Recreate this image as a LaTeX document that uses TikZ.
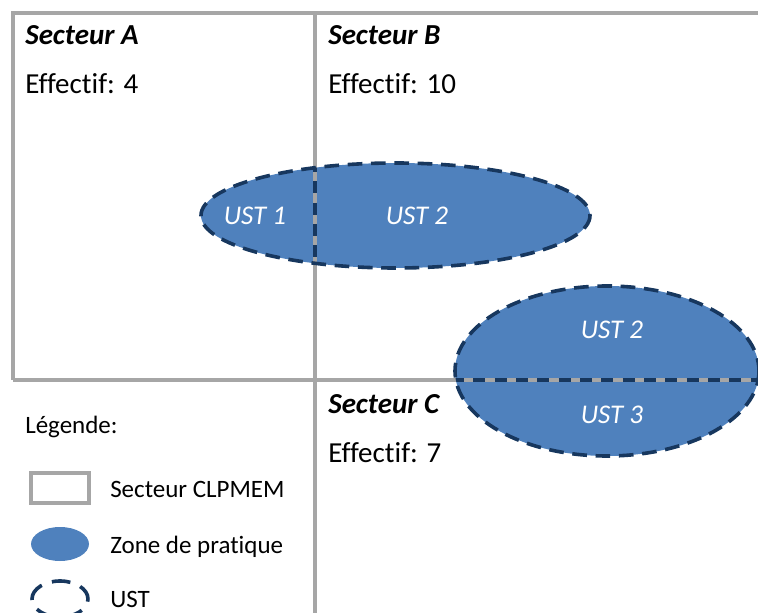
\documentclass[tikz,border=0pt]{standalone}
\usepackage{fontspec}
\setmainfont[Ligatures=NoCommon]{Carlito}
\usepackage{tikz}
\usetikzlibrary{positioning}
\definecolor{zoneblue}{HTML}{4F81BD}
\definecolor{ustnavy}{HTML}{17375E}
\definecolor{sectgrey}{HTML}{A6A6A6}

\begin{document}
\begin{tikzpicture}[x=0.75pt, y=-0.75pt,
  sect/.style={draw=sectgrey, line width=2.5pt},
  zone/.style={fill=zoneblue},
  ust/.style={draw=ustnavy, line width=2.7pt, dash pattern=on 11pt off 6.5pt},
  split/.style={ust, dash pattern=on 9pt off 7pt},
  title/.style={anchor=base west, inner sep=0pt, font=\fontsize{21.75}{26}\selectfont\bfseries\itshape},
  count/.style={anchor=base west, inner sep=0pt, font=\fontsize{21.75}{26}\selectfont},
  leg/.style={anchor=base west, inner sep=0pt, font=\fontsize{18.75}{22}\selectfont},
  lab/.style={inner sep=0pt, text=white, font=\fontsize{20.25}{24}\selectfont\itshape}]
\useasboundingbox (0,0) rectangle (758,613);
\clip (0,0) rectangle (758,613);
\fill[zone] (395.5,215.5) ellipse [x radius=194.5, y radius=52.5];
\fill[zone] (607,371) ellipse [x radius=152, y radius=85];
\draw[sect] (13,380) -- (13,13) -- (780,13);
\draw[sect] (13,380) -- (780,380);
\draw[sect] (315,13) -- (315,640);
\begin{scope}
  \clip (395.5,215.5) ellipse [x radius=194.5, y radius=52.5];
  \draw[split] (315,160) -- (315,280);
\end{scope}
\begin{scope}
  \clip (607,371) ellipse [x radius=152, y radius=85];
  \draw[split] (452,380) -- (770,380);
\end{scope}
\draw[ust] (395.5,215.5) ellipse [x radius=194.5, y radius=52.5];
\draw[ust] (607,371) ellipse [x radius=152, y radius=85];
\node[title] (secA) at (25,45) {Secteur A};
\node[count] (effA) at (25,94) {Effectif: 4};
\node[title] (secB) at (328,45) {Secteur B};
\node[count] (effB) at (328,94) {Effectif: 10};
\node[title] (secC) at (328,413) {Secteur C};
\node[count] (effC) at (328,462) {Effectif: 7};
\node[lab] (ust1) at (255,216) {UST 1};
\node[lab] (ust2a) at (417,216) {UST 2};
\node[lab] (ust2b) at (612,330) {UST 2};
\node[lab] (ust3) at (612,415) {UST 3};
\node[leg] (legtitle) at (25,433) {Légende:};
\draw[sect] (31,473) rectangle (89,503);
\node[leg] (legsect) at (110,498) {Secteur CLPMEM};
\fill[zone] (60,544) ellipse [x radius=29, y radius=17];
\node[leg] (legzone) at (110,553) {Zone de pratique};
\draw[ust, dash pattern=on 14pt off 8pt, dash phase=12pt] (60,599) ellipse [x radius=28, y radius=18];
\node[leg] (legust) at (110,607) {UST};
\end{tikzpicture}
\end{document}
